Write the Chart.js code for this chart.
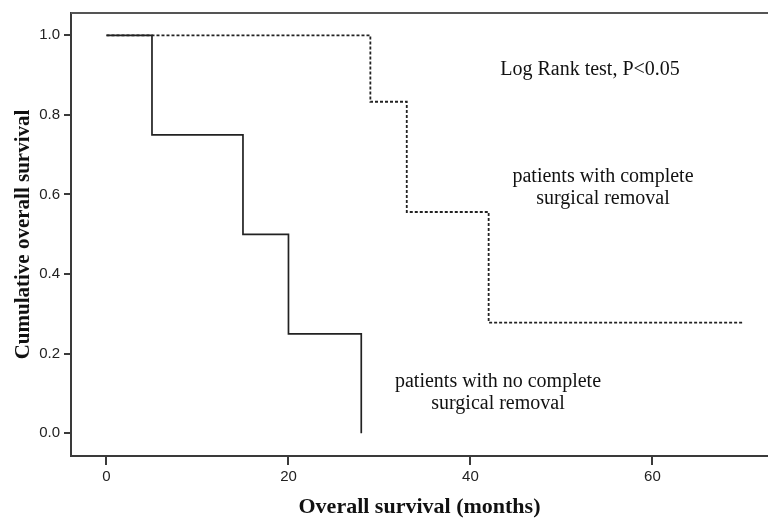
<!DOCTYPE html>
<html>
<head>
<meta charset="utf-8">
<script src="https://cdn.jsdelivr.net/npm/chart.js@4.4.1/dist/chart.umd.min.js"></script>
<style>
  html, body { margin: 0; padding: 0; background: #fff; overflow: hidden; }
  #wrap { width: 768px; height: 521px; position: relative; }
</style>
</head>
<body>
<div id="wrap"><canvas id="km"></canvas></div>
<script>
// Kaplan-Meier curves
const noRemovalMonths   = [0, 5, 15, 20, 28];
const noRemovalSurvival = [1.0, 0.75, 0.5, 0.25, 0.0];

const removalMonths   = [0, 29, 33, 42, 70];
const removalSurvival = [1.0, 0.833, 0.556, 0.278, 0.278];

const xTicks = [0, 20, 40, 60];
const yTicks = [0.0, 0.2, 0.4, 0.6, 0.8, 1.0];

const notes = [
  { lines: ["Log Rank test, P<0.05"], x: 590, y: 70 },
  { lines: ["patients with complete", "surgical removal"], x: 603, y: 177 },
  { lines: ["patients with no complete", "surgical removal"], x: 498, y: 382 }
];

const axisColor = "#3a3a3a";
const tickFont  = { family: "'Liberation Sans', Arial, sans-serif", size: 15 };
const titleFont = { family: "'Liberation Serif', 'Times New Roman', serif", weight: "bold" };

const toPoints = (xs, ys) => xs.map((x, i) => ({ x, y: ys[i] }));

const frameAndNotes = {
  id: "frameAndNotes",
  afterDraw(chart) {
    const { ctx, chartArea } = chart;
    ctx.save();
    // top frame line (right side is cropped in the original)
    ctx.strokeStyle = "#555";
    ctx.lineWidth = 2;
    ctx.beginPath();
    ctx.moveTo(chartArea.left, chartArea.top);
    ctx.lineTo(chartArea.right, chartArea.top);
    ctx.stroke();

    ctx.fillStyle = "#111";
    ctx.font = "20px 'Liberation Serif', 'Times New Roman', serif";
    ctx.textAlign = "center";
    ctx.textBaseline = "middle";
    notes.forEach(n => {
      n.lines.forEach((t, i) => ctx.fillText(t, n.x, n.y + i * 22));
    });
    ctx.restore();
  }
};

new Chart(document.getElementById("km"), {
  type: "line",
  data: {
    datasets: [
      {
        label: "patients with no complete surgical removal",
        data: toPoints(noRemovalMonths, noRemovalSurvival),
        stepped: true,
        borderColor: "#222",
        borderWidth: 1.7,
        pointRadius: 0,
        fill: false
      },
      {
        label: "patients with complete surgical removal",
        data: toPoints(removalMonths, removalSurvival),
        stepped: true,
        borderColor: "#222",
        borderWidth: 1.8,
        borderDash: [3, 2],
        pointRadius: 0,
        fill: false
      }
    ]
  },
  options: {
    responsive: true,
    maintainAspectRatio: false,
    animation: false,
    layout: { padding: { top: 11, right: 0, left: 0, bottom: 0 } },
    plugins: {
      legend: { display: false },
      tooltip: { enabled: false }
    },
    scales: {
      x: {
        type: "linear",
        min: -3.9,
        max: 72.7,
        afterBuildTicks: s => { s.ticks = xTicks.map(v => ({ value: v })); },
        afterFit: s => { s.height = 65; },
        border: { color: axisColor, width: 2 },
        grid: { drawOnChartArea: false, tickLength: 9, color: axisColor, lineWidth: 2 },
        ticks: { color: "#222", font: tickFont, padding: 3, maxRotation: 0 },
        title: {
          display: true,
          text: "Overall survival (months)",
          color: "#111",
          font: { ...titleFont, size: 22 },
          padding: { top: 0, bottom: 0 }
        }
      },
      y: {
        type: "linear",
        min: -0.057,
        max: 1.056,
        afterBuildTicks: s => { s.ticks = yTicks.map(v => ({ value: v })); },
        afterFit: s => { s.width = 71; },
        border: { color: axisColor, width: 2 },
        grid: { drawOnChartArea: false, tickLength: 7, color: axisColor, lineWidth: 2 },
        ticks: { color: "#222", font: tickFont, padding: 4, callback: v => v.toFixed(1) },
        title: {
          display: true,
          text: "Cumulative overall survival",
          color: "#111",
          font: { ...titleFont, size: 21 },
          padding: { top: 11, bottom: 0 }
        }
      }
    }
  },
  plugins: [frameAndNotes]
});
</script>
</body>
</html>
